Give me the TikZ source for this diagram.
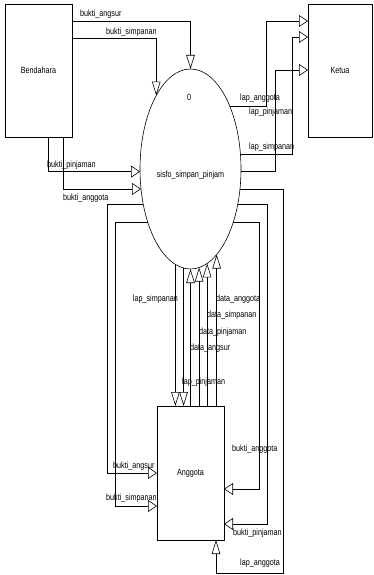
\documentclass[tikz,border=0pt]{standalone}
\usepackage{fontspec}
\newfontfamily\flowfont[FakeStretch=0.8]{Liberation Sans}
\usetikzlibrary{shapes.geometric, arrows.meta, calc}

\begin{document}
\begin{tikzpicture}[x=1pt, y=-1pt,
        entity/.style={rectangle, draw, line width=0.6pt, inner sep=0, outer sep=0, font={\flowfont\fontsize{9}{10}\selectfont}},
        proc/.style={ellipse, draw, line width=0.6pt, inner sep=0, outer sep=0, minimum width=101pt, minimum height=200pt},
        lbl/.style={inner sep=0, font={\flowfont\fontsize{9}{10}\selectfont}},
        flowh/.style={line width=0.6pt, -{Triangle[length=9pt, width=12pt, fill=white]}},
        flowv/.style={line width=0.6pt, -{Triangle[length=14pt, width=8.5pt, fill=white]}}]

        \useasboundingbox (0,0) rectangle (373,575);

        \node[entity, minimum width=67pt, minimum height=133pt] (bendahara) at (38.5,70.5) {Bendahara};
        \node[entity, minimum width=64pt, minimum height=133pt] (ketua) at (340,70.5) {Ketua};
        \node[proc] (sisfo) at (190.5,169) {};
        \node[lbl] (sisfoid) at (189,97) {0};
        \node[lbl] (sisfoname) at (190.5,175) {sisfo\_simpan\_pinjam};
        \node[entity, minimum width=67pt, minimum height=134pt] (anggota) at (190.5,473) {Anggota};

        % Bendahara -> sistem
        \draw[flowv] ([yshift=49.5]bendahara.east) -| (sisfo.north);
        \draw[flowv] ([yshift=32.5]bendahara.east) -| (sisfo.115.3);
        \draw[flowh] ([xshift=9.5]bendahara.south) |- (sisfo.183.4);
        \draw[flowh] ([xshift=24.5]bendahara.south) |- (sisfo.202);
        \node[lbl, anchor=west] (f1) at (80,14) {bukti\_angsur};
        \node[lbl, anchor=west] (f2) at (106,32) {bukti\_simpanan};
        \node[lbl, anchor=west] (f3) at (47,165) {bukti\_pinjaman};
        \node[lbl, anchor=west] (f4) at (63,198) {bukti\_anggota};

        % sistem -> Ketua
        \draw[flowh] (sisfo.58.8) -| ([xshift=-42, yshift=49.5]ketua.west) -- ([yshift=49.5]ketua.west);
        \draw[flowh] (sisfo.16.7) -| ([xshift=-16, yshift=33.5]ketua.west) -- ([yshift=33.5]ketua.west);
        \draw[flowh] (sisfo.-3.4) -| ([xshift=-33, yshift=0.5]ketua.west) -- ([yshift=0.5]ketua.west);
        \node[lbl, anchor=west] (f5) at (240,98) {lap\_anggota};
        \node[lbl, anchor=west] (f6) at (249,112) {lap\_pinjaman};
        \node[lbl, anchor=west] (f7) at (249,147) {lap\_simpanan};

        % sistem -> Anggota
        \draw[flowh] (sisfo.217.4) -| ([xshift=-50]anggota.west) -- (anggota.west);
        \draw[flowh] (sisfo.231.1) -| ([xshift=-42, yshift=-33]anggota.west) -- ([yshift=-33]anggota.west);
        \draw[flowh] (sisfo.-51.1) -| ([xshift=35, yshift=-16]anggota.east) -- ([yshift=-16]anggota.east);
        \draw[flowh] (sisfo.-37.4) -| ([xshift=43, yshift=-51]anggota.east) -- ([yshift=-51]anggota.east);
        \draw[flowv] (sisfo.-22) -| ([xshift=92.5, yshift=-33]anggota.south) -| ([xshift=25.5]anggota.south);
        \draw[flowv] (sisfo.-99.9) -- (sisfo.-99.9 |- anggota.north);
        \draw[flowv] (sisfo.-94.9) -- (sisfo.-94.9 |- anggota.north);
        \node[lbl, anchor=west] (f8) at (113,466) {bukti\_angsur};
        \node[lbl, anchor=west] (f9) at (106,498) {bukti\_simpanan};
        \node[lbl, anchor=west] (f10) at (232,449) {bukti\_anggota};
        \node[lbl, anchor=west] (f11) at (233,533) {bukti\_pinjaman};
        \node[lbl, anchor=west] (f12) at (240,563) {lap\_anggota};
        \node[lbl, anchor=east] (f13) at (178,299) {lap\_simpanan};
        \node[lbl, anchor=west] (f14) at (182,382) {lap\_pinjaman};

        % Anggota -> sistem
        \draw[flowv] (anggota.north) -- (sisfo.south);
        \draw[flowv] (sisfo.-85.1 |- anggota.north) -- (sisfo.-85.1);
        \draw[flowv] (sisfo.-80.1 |- anggota.north) -- (sisfo.-80.1);
        \draw[flowv] (sisfo.-73.5 |- anggota.north) -- (sisfo.-73.5);
        \node[lbl, anchor=west] (f15) at (190,348) {data\_angsur};
        \node[lbl, anchor=west] (f16) at (199,332) {data\_pinjaman};
        \node[lbl, anchor=west] (f17) at (207,315) {data\_simpanan};
        \node[lbl, anchor=west] (f18) at (216,299) {data\_anggota};
    \end{tikzpicture}
\end{document}
